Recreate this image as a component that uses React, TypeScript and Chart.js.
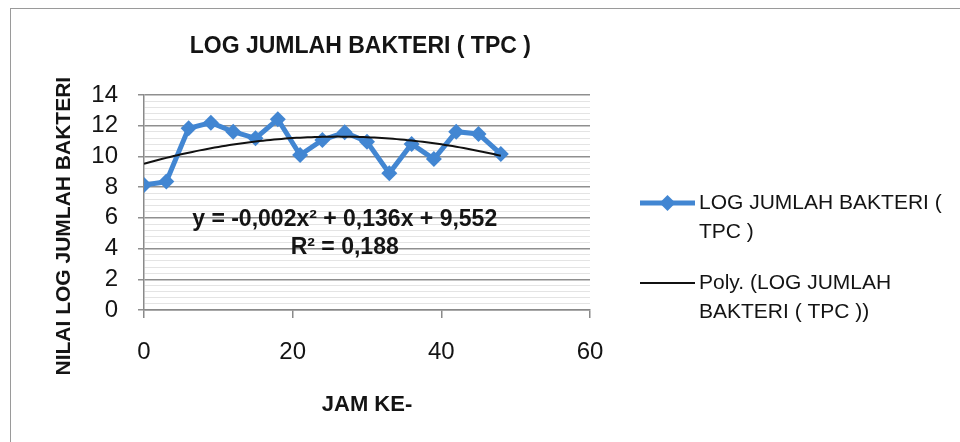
import React, { useEffect, useRef } from 'react';
import { Chart, registerables } from 'chart.js';

Chart.register(...registerables);

// ---- data ----
const hours = [0, 3, 6, 9, 12, 15, 18, 21, 24, 27, 30, 33, 36, 39, 42, 45, 48];
const logTPC = [8.14, 8.36, 11.83, 12.2, 11.61, 11.18, 12.42, 10.09, 11.07, 11.57, 10.96, 8.9, 10.81, 9.83, 11.61, 11.46, 10.16];
const yMajorTicks = [0, 2, 4, 6, 8, 10, 12, 14];
const xTicks = [0, 20, 40, 60];

const titleText = 'LOG JUMLAH BAKTERI ( TPC )';
const yTitle = 'NILAI LOG JUMLAH BAKTERI';
const xTitle = 'JAM KE-';
const seriesName = 'LOG JUMLAH BAKTERI ( TPC )';
const trendName = 'Poly. (LOG JUMLAH BAKTERI ( TPC ))';
const legendLines1 = ['LOG JUMLAH BAKTERI (', 'TPC )'];
const legendLines2 = ['Poly. (LOG JUMLAH', 'BAKTERI ( TPC ))'];
const eqLine1 = 'y = -0,002x² + 0,136x + 9,552';
const eqLine2 = 'R² = 0,188';

const FONT = "'Liberation Sans', Arial, sans-serif";
const BLUE = '#4286d2';
const TEXT = '#141414';

// least-squares quadratic fit (Excel-style polynomial trendline)
function polyfit2(xs: number[], ys: number[]) {
  let s0 = 0, s1 = 0, s2 = 0, s3 = 0, s4 = 0, t0 = 0, t1 = 0, t2 = 0;
  xs.forEach((x, i) => {
    const y = ys[i];
    s0 += 1; s1 += x; s2 += x * x; s3 += x * x * x; s4 += x * x * x * x;
    t0 += y; t1 += x * y; t2 += x * x * y;
  });
  const M = [
    [s0, s1, s2, t0],
    [s1, s2, s3, t1],
    [s2, s3, s4, t2],
  ];
  for (let c = 0; c < 3; c++) {
    let p = c;
    for (let r = c + 1; r < 3; r++) if (Math.abs(M[r][c]) > Math.abs(M[p][c])) p = r;
    [M[c], M[p]] = [M[p], M[c]];
    for (let r = 0; r < 3; r++) {
      if (r === c) continue;
      const f = M[r][c] / M[c][c];
      for (let k = c; k < 4; k++) M[r][k] -= f * M[c][k];
    }
  }
  return [M[0][3] / M[0][0], M[1][3] / M[1][1], M[2][3] / M[2][2]]; // c0, c1, c2
}

const coef = polyfit2(hours, logTPC);
const trendPoints: { x: number; y: number }[] = [];
for (let x = hours[0]; x <= hours[hours.length - 1] + 1e-9; x += 0.5) {
  trendPoints.push({ x, y: coef[0] + coef[1] * x + coef[2] * x * x });
}

const isMajor = (v: number) => yMajorTicks.some((t) => Math.abs(t - v) < 1e-6);

const extrasPlugin = {
  id: 'extras',
  beforeDraw(chart: any) {
    const { ctx, width, height } = chart;
    ctx.save();
    ctx.fillStyle = '#ffffff';
    ctx.fillRect(0, 0, width, height);
    ctx.strokeStyle = '#9a9a9a';
    ctx.lineWidth = 1;
    ctx.strokeRect(10.5, 8.5, width + 20, height + 20);
    ctx.restore();
  },
  afterDraw(chart: any) {
    const { ctx, chartArea: ca } = chart;
    ctx.save();
    // title
    ctx.fillStyle = TEXT;
    ctx.font = `bold 23px ${FONT}`;
    ctx.textAlign = 'center';
    ctx.textBaseline = 'middle';
    ctx.fillText(titleText, ca.left + ca.width * 0.485, ca.top - 48);

    // y axis title
    ctx.save();
    ctx.font = `bold 21px ${FONT}`;
    ctx.translate(ca.left - 80, ca.top + ca.height * 0.61);
    ctx.rotate(-Math.PI / 2);
    ctx.fillText(yTitle, 0, 0);
    ctx.restore();

    // equation
    ctx.font = `bold 23px ${FONT}`;
    const cx = ca.left + ca.width * 0.45;
    ctx.fillText(eqLine1, cx, ca.top + ca.height * 0.582);
    ctx.fillText(eqLine2, cx, ca.top + ca.height * 0.712);

    // legend
    const lx0 = ca.right + 50;
    const lx1 = ca.right + 105;
    const tx = ca.right + 109;
    ctx.font = `21px ${FONT}`;
    ctx.textAlign = 'left';
    const y1 = ca.top + 108;
    const y2 = ca.top + 188;
    const lh = 29;
    // entry 1
    ctx.strokeStyle = BLUE;
    ctx.lineWidth = 5;
    ctx.beginPath();
    ctx.moveTo(lx0, y1);
    ctx.lineTo(lx1, y1);
    ctx.stroke();
    ctx.fillStyle = BLUE;
    const mx = (lx0 + lx1) / 2;
    const r = 8;
    ctx.beginPath();
    ctx.moveTo(mx, y1 - r);
    ctx.lineTo(mx + r, y1);
    ctx.lineTo(mx, y1 + r);
    ctx.lineTo(mx - r, y1);
    ctx.closePath();
    ctx.fill();
    ctx.fillStyle = TEXT;
    legendLines1.forEach((t, i) => ctx.fillText(t, tx, y1 + i * lh));
    // entry 2
    ctx.strokeStyle = '#111111';
    ctx.lineWidth = 2;
    ctx.beginPath();
    ctx.moveTo(lx0, y2);
    ctx.lineTo(lx1, y2);
    ctx.stroke();
    legendLines2.forEach((t, i) => ctx.fillText(t, tx, y2 + i * lh));
    ctx.restore();
  },
};

export default function App() {
  const ref = useRef<HTMLCanvasElement | null>(null);

  useEffect(() => {
    if (!ref.current) return;
    const chart = new Chart(ref.current, {
      type: 'line',
      data: {
        datasets: [
          {
            label: seriesName,
            data: hours.map((h, i) => ({ x: h, y: logTPC[i] })),
            borderColor: BLUE,
            backgroundColor: BLUE,
            borderWidth: 5,
            pointStyle: 'rectRot',
            pointRadius: 8,
            pointBackgroundColor: BLUE,
            pointBorderColor: BLUE,
            pointBorderWidth: 0,
            tension: 0,
            order: 2,
          },
          {
            label: trendName,
            data: trendPoints,
            borderColor: '#111111',
            borderWidth: 2,
            pointRadius: 0,
            tension: 0,
            order: 1,
          },
        ],
      },
      options: {
        responsive: false,
        animation: false,
        events: [],
        layout: { padding: { left: 10, right: 370, top: 95, bottom: 0 } },
        plugins: {
          legend: { display: false },
          tooltip: { enabled: false },
          title: { display: false },
        },
        scales: {
          x: {
            type: 'linear',
            min: 0,
            max: 60,
            afterBuildTicks: (s: any) => {
              s.ticks = xTicks.map((v) => ({ value: v }));
            },
            afterFit: (s: any) => {
              s.height = 132;
            },
            ticks: {
              color: TEXT,
              font: { family: FONT, size: 24 },
              padding: 20,
              maxRotation: 0,
            },
            grid: {
              drawOnChartArea: false,
              drawTicks: true,
              tickLength: 8,
              color: '#8a8a8a',
              lineWidth: 1.5,
            },
            border: { color: '#8a8a8a', width: 1.5 },
            title: {
              display: true,
              text: xTitle,
              color: TEXT,
              font: { family: FONT, size: 22, weight: 'bold' },
              padding: { top: 0, bottom: 24 },
            },
          },
          y: {
            type: 'linear',
            min: 0,
            max: 14,
            ticks: {
              stepSize: 0.4,
              autoSkip: false,
              color: TEXT,
              font: { family: FONT, size: 24 },
              padding: 20,
              callback: (v: any) => (isMajor(Number(v)) ? String(Math.round(Number(v))) : ''),
            },
            afterFit: (s: any) => {
              s.width = 134;
            },
            grid: {
              color: (c: any) => (isMajor(c.tick.value) ? '#8f8f8f' : '#e4e4e4'),
              tickColor: (c: any) => (isMajor(c.tick.value) ? '#8f8f8f' : 'rgba(0,0,0,0)'),
              lineWidth: (c: any) => (isMajor(c.tick.value) ? 1.5 : 1),
              tickLength: 6,
            },
            border: { color: '#8a8a8a', width: 1.5 },
            title: { display: false },
          },
        },
      },
      plugins: [extrasPlugin],
    });
    return () => chart.destroy();
  }, []);

  return (
    <canvas
      ref={ref}
      width={960}
      height={442}
      style={{ position: 'absolute', left: 0, top: 0, width: 960, height: 442 }}
    />
  );
}
